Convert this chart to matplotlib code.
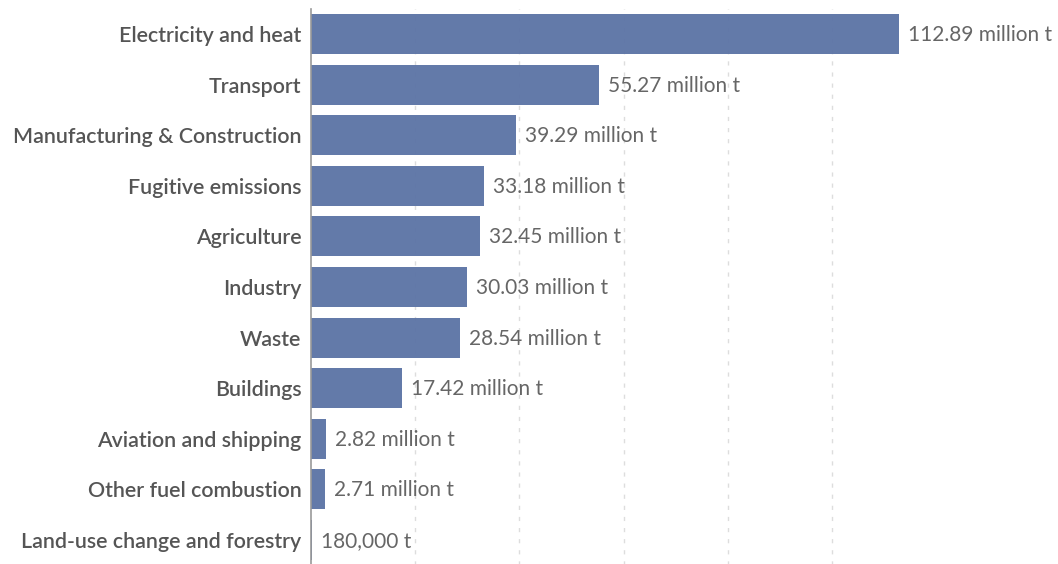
import matplotlib.pyplot as plt

sectors = ["Electricity and heat", "Transport", "Manufacturing & Construction",
           "Fugitive emissions", "Agriculture", "Industry", "Waste", "Buildings",
           "Aviation and shipping", "Other fuel combustion", "Land-use change and forestry"]
values = [112.89, 55.27, 39.29, 33.18, 32.45, 30.03, 28.54, 17.42, 2.82, 2.71, 0.18]
labels = ["112.89 million t", "55.27 million t", "39.29 million t", "33.18 million t",
          "32.45 million t", "30.03 million t", "28.54 million t", "17.42 million t",
          "2.82 million t", "2.71 million t", "180,000 t"]

plt.rcParams['font.family'] = ['Lato', 'DejaVu Sans']

fig = plt.figure(figsize=(10.58, 5.64), dpi=100)
ax = fig.add_axes([311/1058, -1/564, (899-311)/1058, 556/564])

pos = list(range(len(sectors)))
ax.barh(pos, values, height=0.79, color='#5b73a5', alpha=0.95, zorder=2)

for y, v, t in zip(pos, values, labels):
    ax.text(v + 1.7, y + 0.02, t, va='center', ha='left', fontsize=15, color='#666666', clip_on=False)

ax.set_xlim(0, 112.89)
ax.set_ylim(10.5, -0.5)
ax.set_yticks(pos)
ax.set_yticklabels(sectors, fontsize=15.4, fontweight='semibold', color='#555555')
ax.tick_params(axis='y', length=0, pad=7)
ax.set_xticks([20, 40, 60, 80, 100])
ax.tick_params(axis='x', length=0, labelbottom=False)
ax.grid(axis='x', color='#dddddd', linestyle=(0, (3, 5)), linewidth=1, zorder=0)

for s in ['top', 'right', 'bottom']:
    ax.spines[s].set_visible(False)
ax.spines['left'].set_color('#999999')
ax.spines['left'].set_linewidth(1.2)
ax.spines['left'].set_zorder(3)

fig.savefig('out.png', dpi=100)
